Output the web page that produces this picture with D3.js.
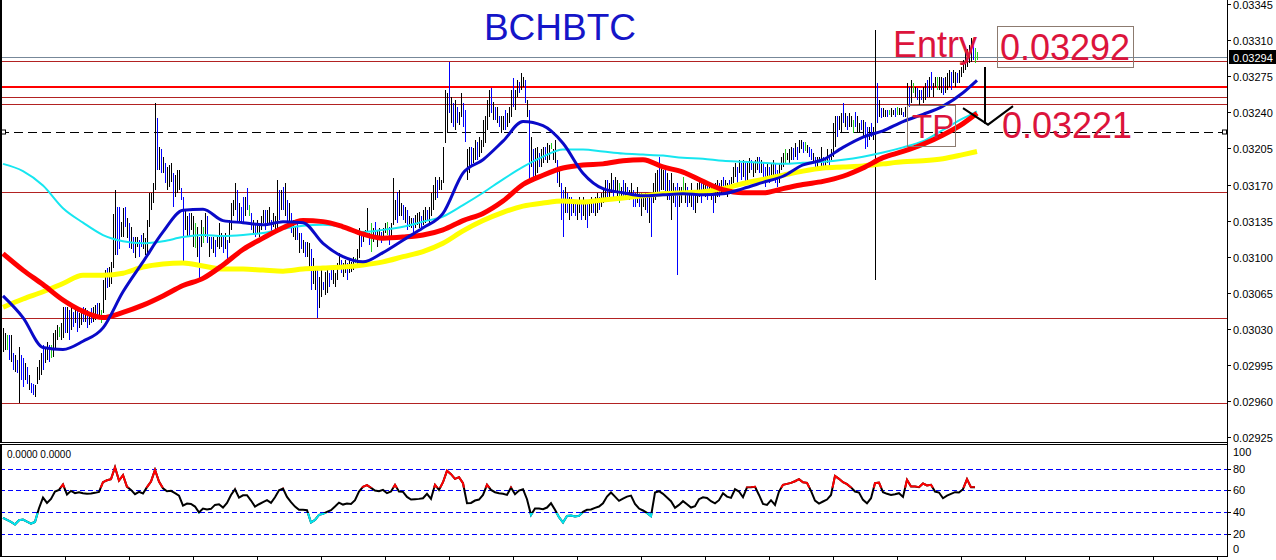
<!DOCTYPE html>
<html>
<head>
<meta charset="utf-8">
<script src="https://cdn.jsdelivr.net/npm/d3@7"></script>
<style>
body { margin: 0; background: #fff; }
svg { display: block; }
</style>
</head>
<body>
<svg id="chart" width="1276" height="560"></svg>
<script>
// prices are in 0.00001 BTC (3294 = 0.03294)
// bars: [high, low, dir]  dir -1 = down bar, 0 = unchanged, missing = up bar
var bars = [
  [3031,3008],[3026,3010],[3024,3010,0],[3024,3000,-1],[3024,2998],[3007,2990,-1],[3005,2988],[3000,2987,-1],[3012,2958],[3005,2980,-1],
  [3002,2974,-1],[2997,2980],[2993,2977,-1],[2985,2971],[2978,2968,-1],[2977,2966,-1],[2976,2964],[2993,2977],[3000,2980],[3007,2985],
  [3014,2990,-1],[3012,2997],[3017,3000],[3014,2998,-1],[3014,3002,0],[3026,3003],[3029,3010],[3034,3019],[3032,3022,0],[3036,3019],
  [3051,3021],[3051,3026,-1],[3051,3026],[3048,3019,-1],[3050,3029],[3046,3032,-1],[3051,3036],[3048,3027,-1],[3045,3031],[3048,3034],
  [3051,3037,-1],[3050,3037],[3048,3031,-1],[3046,3034],[3050,3036,-1],[3051,3037],[3053,3039],[3055,3041,-1],[3055,3042],[3048,3036,0],
  [3077,3045],[3087,3058],[3089,3070,-1],[3090,3071],[3095,3074],[3141,3089],[3165,3102],[3148,3102,-1],[3148,3107,-1],
  [3134,3119],[3147,3119],[3148,3129,-1],[3138,3118],[3133,3108,-1],[3129,3107],[3119,3104,-1],[3119,3099],[3119,3109],[3116,3100,-1],
  [3121,3109,-1],[3123,3107],[3118,3102],[3136,3100],[3162,3129],[3162,3145],[3171,3152],[3249,3165],[3234,3184,-1],[3206,3184],
  [3204,3181,-1],[3197,3181],[3191,3171,-1],[3187,3165],[3189,3168],[3191,3172],[3181,3148,-1],[3179,3158],[3184,3162],[3184,3165],
  [3167,3155,-1],[3158,3095,-1],[3145,3126],[3139,3119],[3142,3119,-1],[3142,3126],[3139,3109],[3133,3108,0],[3129,3100],[3119,3077,-1],
  [3136,3109],[3129,3113,0],[3142,3119],[3139,3113,-1],[3119,3100],[3119,3107,-1],[3119,3104],[3116,3100,-1],[3119,3109],[3133,3107],
  [3123,3109],[3119,3104,-1],[3123,3107],[3116,3097,-1],[3136,3113],[3152,3126],[3155,3139],[3171,3145],[3165,3133,-1],[3152,3133],
  [3148,3133,-1],[3158,3133,-1],[3158,3139],[3167,3145,-1],[3150,3139,0],[3142,3126,-1],[3136,3123],[3133,3119,-1],[3136,3123],[3133,3119],
  [3139,3126],[3145,3133],[3145,3126,-1],[3145,3133],[3148,3133],[3136,3123,-1],[3142,3129],[3139,3123],[3174,3126],[3165,3136,-1],
  [3165,3145],[3168,3145,-1],[3171,3139],[3155,3133,-1],[3152,3129],[3142,3123,-1],[3136,3119],[3129,3116],[3136,3116,-1],[3123,3104],
  [3123,3107,-1],[3116,3104],[3114,3100,-1],[3114,3100],[3113,3090],[3107,3068,-1],[3099,3074],[3090,3068],[3089,3041,-1],[3080,3050],
  [3087,3061],[3075,3068,-1],[3085,3063],[3087,3065],[3084,3071,-1],[3087,3077,-1],[3090,3074],[3084,3071],[3094,3077],[3104,3090],
  [3097,3084,-1],[3094,3080],[3097,3084],[3094,3077,-1],[3097,3084],[3095,3085],[3100,3087],[3099,3094,0],[3107,3090],[3128,3099],
  [3123,3109,-1],[3124,3114],[3126,3119],[3147,3124],[3123,3111,-1],[3133,3105,0],[3128,3114],[3134,3118,-1],[3126,3109],[3128,3116],
  [3124,3113,-1],[3128,3119],[3133,3123],[3134,3121,0],[3129,3111,-1],[3133,3119],[3176,3131],[3155,3136],[3163,3133,-1],[3165,3139],
  [3152,3139],[3150,3136,-1],[3148,3133],[3145,3126,-1],[3139,3129],[3138,3128],[3138,3123,-1],[3140,3128],[3142,3131],[3143,3128],
  [3139,3128,-1],[3145,3131],[3148,3133],[3145,3136,-1],[3148,3133],[3162,3139],[3170,3145],[3177,3155],[3174,3157,-1],[3177,3165],
  [3174,3165],[3206,3171],
  [3262,3210],[3259,3220],[3289,3239,-1],[3255,3230],[3249,3226,-1],[3252,3223],[3245,3230,-1],[3240,3228],[3259,3235],[3249,3226,-1],
  [3242,3211,-1],[3204,3174],[3206,3181],[3206,3187,-1],[3205,3191],[3213,3194],[3211,3194,-1],[3216,3197],[3213,3201],[3233,3206],
  [3236,3210],[3252,3223],[3262,3235],[3264,3239,-1],[3250,3233],[3245,3233,-1],[3245,3230],[3236,3226,-1],[3236,3220],[3236,3223],
  [3242,3223,-1],[3239,3226],[3245,3230],[3262,3235],[3273,3245,-1],[3262,3242],[3271,3255],[3269,3259,-1],[3278,3262],[3274,3265],
  [3271,3249,-1],[3252,3235],[3242,3171,-1],[3216,3187],[3204,3174,-1],[3205,3177],[3206,3181],[3201,3187,-1],[3204,3187],[3206,3191],
  [3206,3194,-1],[3210,3191],[3208,3194],[3210,3204,0],[3204,3194],[3213,3191],[3194,3171,-1],[3187,3168],[3171,3136,-1],[3165,3119,-1],
  [3168,3142],[3162,3142,-1],[3158,3136],[3158,3139,-1],[3155,3142],[3152,3139,-1],[3155,3136],[3158,3142],[3155,3136,-1],[3158,3139],
  [3155,3136],[3152,3128,-1],[3155,3139],[3158,3142],[3155,3142,-1],[3158,3139],[3162,3142],[3158,3145,-1],[3162,3148],[3165,3152],
  [3174,3155],[3174,3158,-1],[3171,3158],[3181,3162],[3174,3155,-1],[3177,3162],[3174,3158],[3171,3152,0],[3168,3155],[3174,3158,-1],
  [3171,3155],[3168,3155,-1],[3165,3155],[3171,3158],[3165,3148,-1],[3162,3148,-1],[3168,3152],[3162,3148,-1],[3162,3139],[3158,3148],
  [3162,3145],[3158,3142,-1],[3158,3133],[3162,3119,-1],[3171,3152],[3181,3155],[3184,3162],[3197,3162,-1],[3187,3165],[3184,3165],
  [3184,3162,-1],[3181,3155],[3174,3155,-1],[3181,3136],[3171,3152],[3168,3148,-1],[3171,3082,-1],[3168,3148],[3168,3152],[3177,3162,0],
  [3171,3152],[3168,3148,-1],[3165,3152],[3171,3148],[3165,3145,-1],[3165,3142],[3171,3152],[3174,3158],[3171,3152,-1],[3174,3162],
  [3174,3158],[3171,3155,-1],[3171,3162],[3168,3155],[3165,3142,-1],[3171,3152],[3174,3158],[3171,3158,-1],[3174,3162],[3177,3165,-1],
  [3174,3162],[3171,3158],[3174,3165,-1],[3177,3162],[3187,3171],[3191,3177],[3187,3171,-1],[3194,3181],[3191,3174,-1],[3194,3177],
  [3191,3171,-1],[3191,3174],[3196,3181],[3194,3184,-1],[3191,3177],[3194,3181],[3197,3184],[3197,3181,-1],[3194,3181],[3191,3171,-1],
  [3187,3168,-1],[3191,3174],[3187,3171,-1],[3191,3177],[3194,3177],[3191,3171,-1],[3184,3168,-1],[3191,3171],[3197,3184],[3201,3187],
  [3204,3191,0],[3201,3194],[3204,3191],[3206,3194],[3205,3194,-1],[3210,3197],[3206,3194,-1],[3213,3201],[3213,3204],[3211,3201,-1],
  [3211,3202,0],[3208,3201],[3206,3197,-1],[3204,3194,-1],[3201,3191],[3197,3187,-1],[3197,3187],[3197,3191],[3206,3187],[3197,3187,-1],
  [3194,3187],[3204,3191],[3197,3187,-1],[3204,3194],[3230,3197],[3236,3206],[3236,3216,-1],[3236,3223],[3239,3220],[3249,3230,-1],
  [3239,3226],[3236,3223,-1],[3239,3226],[3236,3226],[3233,3220,0],[3240,3226,-1],[3236,3220],[3230,3220],[3233,3223,-1],[3233,3216],
  [3231,3204,-1],[3226,3206,-1],[3226,3213],[3230,3216,-1],[3226,3213],[3320,3077],[3268,3230,-1],[3252,3235],[3244,3234,-1],[3244,3235],
  [3242,3235],[3242,3235,-1],[3242,3237,0],[3244,3235],[3242,3237],[3244,3235,-1],[3245,3237,0],[3244,3237],[3244,3237],[3240,3235,-1],
  [3245,3235],[3268,3230],[3265,3245,-1],[3271,3249],[3268,3259,0],[3265,3255],[3264,3252,-1],[3262,3247],[3262,3252,-1],[3265,3249],
  [3268,3252],[3271,3255,-1],[3274,3255],[3279,3262,-1],[3268,3255],[3274,3265],[3274,3262,0],[3274,3262],[3274,3259],[3273,3257,-1],
  [3274,3259],[3278,3262],[3281,3265],[3279,3262,-1],[3281,3268],[3279,3265],[3278,3268,-1],[3281,3268],[3284,3274],[3291,3278],
  [3298,3281],[3301,3284],[3305,3288],[3312,3289],[3308,3291,-1],[3302,3288,0],[3298,3291,0]
];

// moving averages, one reading every 10 bars (the last one on the final bar)
var maStep = 10;
var maBlue = [3062,3041,3012,3010,3018,3031,3066,3095,3124,3145, 3146,3135,3133,3131,3134,3133,3113,3100,3095,3104,
  3116,3128,3142,3181,3194,3212,3231,3227,3210,3181, 3166,3162,3159,3160,3161,3160,3161,3166,3172,3178,
  3189,3194,3206,3216,3222,3231,3238,3246,3259,3271];
var maCyan = [3190,3183,3169,3147,3133,3121,3115,3113,3115,3119, 3121,3120,3121,3123,3127,3130,3131,3129,3124,3126,
  3129,3134,3139,3150,3162,3175,3187,3197,3204,3204, 3202,3200,3199,3198,3196,3195,3193,3192,3191,3190,
  3191,3192,3194,3197,3201,3206,3212,3223,3234,3241];
var maRed = [3103,3087,3073,3058,3047,3041,3046,3053,3062,3072, 3079,3092,3107,3118,3128,3135,3134,3129,3122,3118,
  3119,3121,3126,3135,3142,3154,3170,3179,3186,3189, 3190,3193,3194,3187,3182,3173,3165,3162,3162,3166,
  3170,3173,3178,3186,3196,3202,3209,3218,3229,3239];
var maYellow = [3051,3059,3066,3074,3082,3082,3084,3090,3093,3094, 3091,3088,3088,3087,3086,3088,3089,3090,3092,3095,
  3100,3105,3113,3125,3135,3143,3149,3152,3154,3153, 3155,3157,3159,3161,3162,3163,3166,3171,3175,3179,
  3183,3186,3187,3188,3190,3192,3193,3195,3199,3202];

// oscillator, one reading every 2 bars
var rsiStep = 2;
var rsi = [35.0,33.1,31.3,28.9,32.8,33.4,31.6,29.8,31.3,43.8,
  53.5,48.6,52.3,59.0,60.5,65.4,56.3,59.6,57.5,58.4,
  57.5,56.9,57.2,57.8,58.7,67.5,69.3,70.3,81.2,69.0,
  73.9,63.3,60.5,56.6,58.7,57.2,63.0,68.1,78.8,68.1,
  62.0,59.3,59.6,57.5,55.3,46.2,48.0,47.7,45.3,40.0,
  43.5,42.6,43.2,46.8,47.4,44.4,48.6,55.9,61.1,53.5,
  55.6,55.6,50.8,45.3,47.4,49.3,51.1,48.6,53.8,60.2,
  61.7,54.1,49.3,45.3,42.3,42.3,42.0,30.7,33.1,37.7,
  38.6,40.4,42.0,45.3,48.9,47.1,48.0,47.7,51.1,59.0,
  63.3,64.8,62.4,59.9,59.3,60.5,57.5,59.0,65.1,59.0,
  58.7,54.1,51.7,52.0,52.3,52.9,56.9,52.3,65.1,60.5,
  67.5,77.9,74.8,70.6,72.1,66.6,48.3,48.6,50.8,51.7,
  55.9,65.1,60.5,58.4,57.5,56.9,55.9,62.6,56.6,59.9,
  61.1,52.0,37.7,43.5,43.5,42.9,44.4,48.3,42.3,35.6,
  30.7,36.8,37.1,36.2,36.8,40.4,42.3,42.6,44.1,45.3,
  48.3,54.4,58.1,54.4,50.5,52.6,54.4,55.3,47.7,43.5,
  41.7,39.5,36.5,58.1,59.3,56.9,53.5,50.2,44.1,46.8,
  50.2,47.4,44.4,45.6,52.0,53.8,53.2,50.2,48.3,51.1,
  57.5,54.4,53.2,61.1,59.0,53.8,62.8,63.0,63.3,55.9,
  47.7,46.8,51.1,46.8,59.0,65.1,66.0,66.9,68.4,70.3,
  67.5,66.9,59.6,50.8,48.0,49.9,51.7,55.9,73.3,70.6,
  67.5,65.7,62.8,59.0,58.1,51.4,48.3,52.9,66.6,67.2,
  58.4,56.9,55.9,56.6,57.5,54.1,69.7,63.6,63.6,63.0,
  66.3,64.5,65.1,59.0,58.1,52.9,55.3,56.9,58.4,58.1,
  61.1,70.3,62.8,62.8];

var priceTicks = [0.02925,0.02960,0.02995,0.03030,0.03065,0.03100,0.03135,0.03170,0.03205,0.03240,0.03275,0.03310,0.03345];
var rsiTicks = [100,80,60,40,20,0];
var rsiLevels = [80,60,40,20];

var levelPrices = [0.03294,0.03290,0.03265,0.03255,0.03248,0.03221,0.03163,0.03041,0.02958];
var levelKinds  = ["bid","thin","thick","thin","thin","tp","thin","thin","thin"];

var bidPrice = 0.03294;
var entryPrice = "0.03292";
var tpPrice = "0.03221";
var symbol = "BCHBTC";

(function(d3) {
  var svg = d3.select("#chart");
  var W = 1276, H = 560, axisX = 1227;
  var mainBottom = 442, subTop = 445, subBottom = 556;

  var x = d3.scaleLinear().domain([0, 612]).range([3, axisX]);
  var y = d3.scaleLinear().domain([0.02925, 0.03345]).range([437.2, 4]);
  var yr = d3.scaleLinear().domain([0, 100]).range([556.2, 446.6]);
  var pr = function(v) { return v / 1e5; };
  var last = bars.length - 1;
  var crisp = function(v) { return Math.round(v) + 0.5; };

  svg.append("rect").attr("width", W).attr("height", H).attr("fill", "#fff");

  var defs = svg.append("defs");
  defs.append("clipPath").attr("id", "clipMain").append("rect")
    .attr("x", 0).attr("y", 0).attr("width", axisX).attr("height", mainBottom);
  defs.append("clipPath").attr("id", "clipSub").append("rect")
    .attr("x", 0).attr("y", subTop).attr("width", axisX).attr("height", subBottom - subTop);
  defs.append("clipPath").attr("id", "clipHot").append("rect")
    .attr("x", 0).attr("y", subTop).attr("width", axisX).attr("height", yr(62.5) - subTop);
  defs.append("clipPath").attr("id", "clipCold").append("rect")
    .attr("x", 0).attr("y", yr(39.5)).attr("width", axisX).attr("height", subBottom - yr(39.5));

  var g = svg.append("g").attr("clip-path", "url(#clipMain)");

  // horizontal level lines
  var levelStyle = {
    bid:   {c: "#778899", w: 1, dash: null},
    thin:  {c: "#b22222", w: 1, dash: null},
    thick: {c: "#ff0000", w: 2, dash: null},
    tp:    {c: "#000000", w: 1, dash: "9,5"}
  };
  levelPrices.forEach(function(p, i) {
    var s = levelStyle[levelKinds[i]];
    var yy = s.w === 1 ? crisp(y(p)) : Math.round(y(p));
    g.append("line")
      .attr("x1", 0).attr("x2", axisX)
      .attr("y1", yy).attr("y2", yy)
      .attr("stroke", s.c).attr("stroke-width", s.w)
      .attr("stroke-dasharray", s.dash);
  });

  // price bars
  g.selectAll(".bar")
    .data(bars)
    .enter().append("line")
    .attr("class", "bar")
    .attr("x1", function(d, i) { return crisp(x(i)); })
    .attr("x2", function(d, i) { return crisp(x(i)); })
    .attr("y1", function(d) { return y(pr(d[0])); })
    .attr("y2", function(d) { return y(pr(d[1])); })
    .attr("stroke", function(d) { return d[2] === -1 ? "#0000ff" : (d[2] === 0 ? "#22cc22" : "#000"); })
    .attr("stroke-width", 1)
    .attr("shape-rendering", "crispEdges");

  // moving averages
  var maLine = d3.line()
    .curve(d3.curveMonotoneX)
    .x(function(d, i) { return x(Math.min(i * maStep, last)); })
    .y(function(d) { return y(pr(d)); });

  [[maYellow, "#ffff00", 5], [maCyan, "#16e6f0", 2], [maRed, "#ff0000", 5], [maBlue, "#0a0ac8", 3]]
    .forEach(function(m) {
      g.append("path")
        .attr("d", maLine(m[0]))
        .attr("fill", "none")
        .attr("stroke", m[1])
        .attr("stroke-width", m[2]);
    });

  // take profit markers on the dashed line
  var yTp = crisp(y(0.03221));
  [1, axisX - 5].forEach(function(px0) {
    svg.append("rect").attr("x", px0 + 0.5).attr("y", yTp - 2.5)
      .attr("width", 4).attr("height", 4)
      .attr("fill", "#fff").attr("stroke", "#000").attr("stroke-width", 1);
  });

  // arrow / check mark
  var ann = svg.append("g").attr("fill", "none").attr("stroke", "#000").attr("stroke-width", 2);
  ann.append("line")
    .attr("x1", x(491)).attr("x2", x(491))
    .attr("y1", y(0.03284)).attr("y2", y(0.03229));
  ann.append("path")
    .attr("d", d3.line()([[x(480), y(0.03244)], [x(492.5), y(0.03228)], [x(505), y(0.03246)]]));

  // labels
  var big = "'Liberation Sans', Arial, sans-serif";
  svg.append("text").attr("x", 560).attr("y", 40)
    .attr("text-anchor", "middle")
    .attr("font-family", big).attr("font-size", 37)
    .attr("fill", "#1515c8").text(symbol);

  svg.append("text").attr("x", 893).attr("y", 56.5)
    .attr("font-family", big).attr("font-size", 36)
    .attr("fill", "#dc143c").text("Entry");
  svg.append("rect").attr("x", 997.5).attr("y", 26.5).attr("width", 136).attr("height", 41)
    .attr("fill", "none").attr("stroke", "#8c7b70").attr("stroke-width", 1);
  svg.append("text").attr("x", 1000).attr("y", 59.5)
    .attr("font-family", big).attr("font-size", 36)
    .attr("fill", "#dc143c").text(entryPrice);

  svg.append("rect").attr("x", 907.5).attr("y", 105.5).attr("width", 48).attr("height", 41)
    .attr("fill", "none").attr("stroke", "#8c7b70").attr("stroke-width", 1);
  svg.append("text").attr("x", 912).attr("y", 138)
    .attr("font-family", big).attr("font-size", 33)
    .attr("fill", "#dc143c").text("TP");
  svg.append("text").attr("x", 1002).attr("y", 138)
    .attr("font-family", big).attr("font-size", 36)
    .attr("fill", "#dc143c").text(tpPrice);

  // oscillator panel
  var sub = svg.append("g").attr("clip-path", "url(#clipSub)");
  rsiLevels.forEach(function(v) {
    sub.append("line")
      .attr("x1", 0).attr("x2", axisX)
      .attr("y1", crisp(yr(v))).attr("y2", crisp(yr(v)))
      .attr("stroke", "#0000ff").attr("stroke-width", 1)
      .attr("stroke-dasharray", "5,3");
  });
  var rsiLine = d3.line()
    .x(function(d, i) { return x(i * rsiStep); })
    .y(function(d) { return yr(d); });
  sub.append("path").attr("d", rsiLine(rsi))
    .attr("fill", "none").attr("stroke", "#000").attr("stroke-width", 2);
  sub.append("path").attr("d", rsiLine(rsi)).attr("clip-path", "url(#clipHot)")
    .attr("fill", "none").attr("stroke", "#ff0000").attr("stroke-width", 2);
  sub.append("path").attr("d", rsiLine(rsi)).attr("clip-path", "url(#clipCold)")
    .attr("fill", "none").attr("stroke", "#00e5ee").attr("stroke-width", 2);

  var small = "Tahoma, 'Liberation Sans', Arial, sans-serif";
  svg.append("text").attr("x", 7).attr("y", 457.5)
    .attr("font-family", small).attr("font-size", 10)
    .attr("fill", "#000").text("0.0000 0.0000");

  // frames
  var frame = svg.append("g").attr("stroke", "#000").attr("stroke-width", 1).attr("shape-rendering", "crispEdges");
  frame.append("line").attr("x1", 1).attr("x2", 1).attr("y1", 0).attr("y2", mainBottom).attr("stroke-width", 2);
  frame.append("line").attr("x1", 1).attr("x2", 1).attr("y1", subTop).attr("y2", subBottom).attr("stroke-width", 2);
  frame.append("line").attr("x1", 0).attr("x2", axisX).attr("y1", mainBottom + 0.5).attr("y2", mainBottom + 0.5);
  frame.append("line").attr("x1", 0).attr("x2", axisX).attr("y1", subTop - 0.5).attr("y2", subTop - 0.5);
  frame.append("line").attr("x1", 0).attr("x2", axisX + 1).attr("y1", subBottom + 0.5).attr("y2", subBottom + 0.5);
  frame.append("line").attr("x1", axisX + 0.5).attr("x2", axisX + 0.5).attr("y1", 0).attr("y2", subBottom + 1);

  // time ticks
  d3.range(31, 612, 32).forEach(function(b) {
    frame.append("line").attr("x1", crisp(x(b))).attr("x2", crisp(x(b)))
      .attr("y1", subBottom).attr("y2", H);
  });

  // price axis
  var axisFont = "'Liberation Sans Narrow', 'Arial Narrow', 'Liberation Sans', sans-serif";
  priceTicks.forEach(function(t) {
    var yy = crisp(y(t));
    frame.append("line").attr("x1", axisX).attr("x2", axisX + 4).attr("y1", yy).attr("y2", yy);
    svg.append("text").attr("x", 1233).attr("y", yy + 4)
      .attr("font-family", axisFont).attr("font-size", 11)
      .attr("fill", "#000").text(d3.format(".5f")(t));
  });

  // current price label
  var yb = crisp(y(bidPrice));
  svg.append("rect").attr("x", 1229).attr("y", yb - 7.5).attr("width", W - 1229).attr("height", 14).attr("fill", "#000");
  svg.append("text").attr("x", 1233).attr("y", yb + 4)
    .attr("font-family", axisFont).attr("font-size", 11)
    .attr("fill", "#fff").text(d3.format(".5f")(bidPrice));

  // oscillator axis
  rsiTicks.forEach(function(t) {
    var yy = Math.max(452, Math.min(549, yr(t)));
    if (t > 0 && t < 100) {
      frame.append("line").attr("x1", axisX).attr("x2", axisX + 4).attr("y1", crisp(yr(t))).attr("y2", crisp(yr(t)));
    }
    svg.append("text").attr("x", 1233).attr("y", yy + 4)
      .attr("font-family", axisFont).attr("font-size", 11)
      .attr("fill", "#000").text(t);
  });
})(window.d3);
</script>
</body>
</html>
